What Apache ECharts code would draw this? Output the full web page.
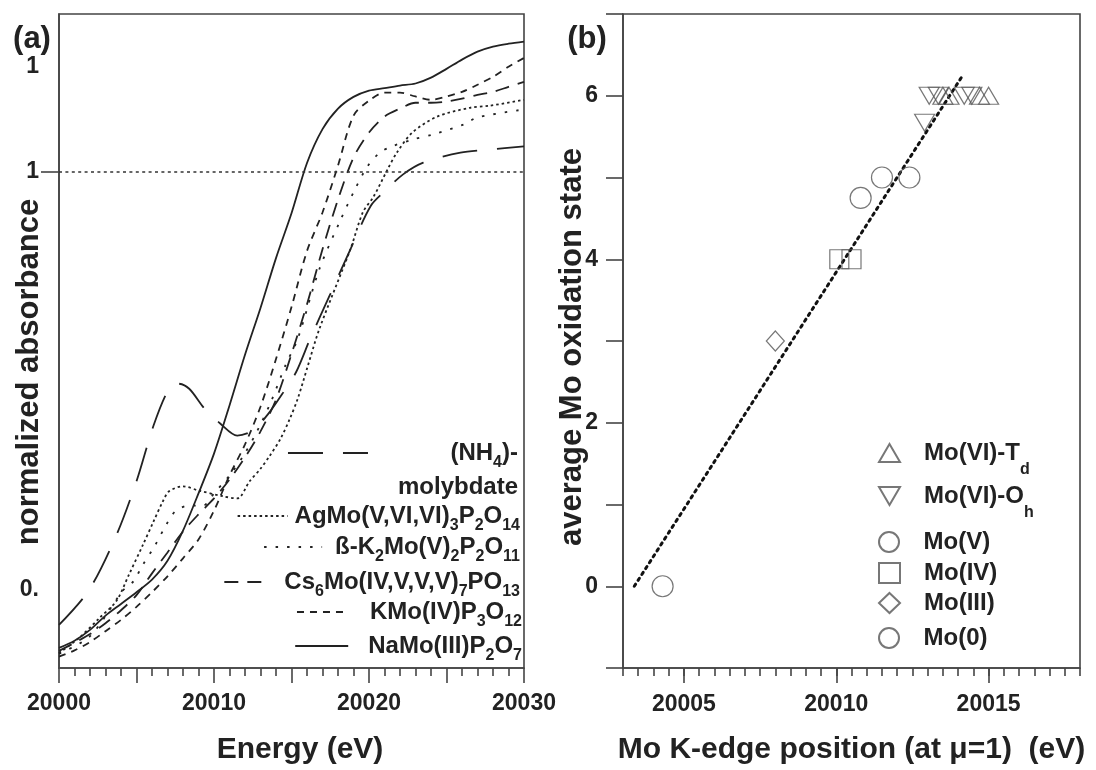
<!DOCTYPE html>
<html><head><meta charset="utf-8">
<script src="https://cdn.jsdelivr.net/npm/echarts@6.0.0/dist/echarts.min.js"></script>
<style>html,body{margin:0;padding:0;background:#fff}#c{width:1096px;height:770px}</style>
</head><body><div id="c"></div>
<script>
// ---------------- Panel (a): normalized absorbance vs energy ----------------
const naE  = [0,1,2,3,4,5,6,7,8,9,10,11,12,13,14,15,16,17,18,19,20,21,22,23,24,25,26,27,28,29,30];
const naV  = [-0.138,-0.121,-0.095,-0.061,-0.033,-0.005,0.025,0.07,0.142,0.231,0.326,0.441,0.562,0.674,0.793,0.9,1.02,1.101,1.15,1.178,1.193,1.199,1.205,1.21,1.224,1.245,1.267,1.286,1.298,1.305,1.31];
const kmoE = [0,1,2,3,4,5,6,7,8,9,10,11,12,13,14,15,16,17,18,19,20,21,22,23,24,25,26,27,28,29,30];
const kmoV = [-0.159,-0.144,-0.124,-0.098,-0.071,-0.04,-0.005,0.033,0.076,0.121,0.19,0.274,0.348,0.438,0.552,0.676,0.81,0.902,1.014,1.133,1.169,1.188,1.188,1.179,1.171,1.179,1.19,1.207,1.226,1.25,1.271];
const csE  = [0,1,2,3,4,5,6,7,8,9,10,11,12,13,14,15,16,17,18,19,20,21,22,23,24,25,26,27,28,29,30];
const csV  = [-0.145,-0.126,-0.105,-0.079,-0.048,-0.012,0.04,0.09,0.14,0.181,0.219,0.264,0.317,0.379,0.455,0.564,0.683,0.814,0.933,1.033,1.093,1.131,1.15,1.164,1.164,1.167,1.174,1.183,1.19,1.202,1.214];
const bkE  = [0,2.0,4.1,4.8,5.4,6.2,6.9,7.5,8.4,9.3,10.0,11.0,11.9,12.8,13.7,14.6,15.4,16.8,18.1,19.0,19.9,20.7,21.5,22.8,24.1,26.1,27.0,30];
const bkV  = [-0.152,-0.11,-0.002,0.021,0.06,0.107,0.155,0.188,0.202,0.202,0.231,0.274,0.321,0.381,0.452,0.536,0.6,0.767,0.879,0.95,1.012,1.045,1.06,1.076,1.088,1.112,1.129,1.148];
const agE  = [0,1.3,2.6,3.7,4.5,5.4,6.1,6.7,7.1,8.0,9.0,10.6,11.5,12.3,13.0,13.6,14.3,14.9,15.4,16.0,16.8,18.8,19.6,20.3,21.2,21.8,22.8,24.4,26.5,27.8,30];
const agV  = [-0.15,-0.114,-0.067,-0.026,0.036,0.107,0.164,0.212,0.236,0.248,0.238,0.224,0.219,0.26,0.29,0.321,0.362,0.41,0.457,0.529,0.624,0.814,0.902,0.94,1.005,1.045,1.093,1.131,1.152,1.157,1.171];
const nhE  = [0,1.9,3.7,5.0,6.1,7.1,7.7,8.4,9.4,10.4,11.5,12.5,13.5,14.5,15.3,16.2,17.5,18.8,20.1,21,22.2,23.5,25.9,27.8,30];
const nhV  = [-0.083,-0.002,0.131,0.26,0.393,0.481,0.493,0.481,0.433,0.398,0.369,0.381,0.421,0.474,0.521,0.6,0.707,0.814,0.917,0.952,0.993,1.021,1.045,1.052,1.06];
const energyOffset = 20000;
const refLevel = 1;
const aXLabels = [20000, 20010, 20020, 20030];
const aYLabelVals = [0, 1, 1.25];
const aYLabelTxt = ['0.', '1', '1'];
const aYTickVals = [1];

// ---------------- Panel (b): oxidation state vs edge position ----------------
const tdX = [20013.5, 20013.7, 20014.7, 20015.0];      const tdY = [6, 6, 6, 6];
const ohX = [20012.9, 20013.05, 20013.35, 20014.2, 20014.45]; const ohY = [5.67, 6, 6, 6, 6];
const m5X = [20010.8, 20011.5, 20012.4];               const m5Y = [4.75, 5, 5];
const m4X = [20010.1, 20010.5];                        const m4Y = [4, 4];
const m3X = [20008.0];                                 const m3Y = [3];
const m0X = [20004.3];                                 const m0Y = [0];
const fitX = [20003.37, 20014.1];                      const fitY = [0, 6.22];
const bXLabels = [20005, 20010, 20015];
const bYLabels = [0, 2, 4, 6];

// ---------------- styling ----------------
const F = '"Liberation Sans", Arial, Helvetica, sans-serif';
const INK = '#222';
const AX = {color: '#444', width: 1.6};
const pairs = (xs, ys, off) => xs.map((x, i) => [x + (off || 0), ys[i]]);

function lineSeries(name, xs, ys, dash) {
  return {type: 'line', name, xAxisIndex: 0, yAxisIndex: 0, data: pairs(xs, ys, energyOffset),
    symbol: 'none', smooth: 0.3, lineStyle: {color: INK, width: 1.8, type: dash},
    itemStyle: {color: INK}, emphasis: {disabled: true}, silent: true, z: 3};
}
const triUp = 'path://M5,0 L10,8.66 L0,8.66 Z';
const triDn = 'path://M0,0 L10,0 L5,8.66 Z';
function scat(name, xs, ys, symbol, size) {
  return {type: 'scatter', name, xAxisIndex: 1, yAxisIndex: 1, data: pairs(xs, ys), symbol, symbolSize: size,
    itemStyle: {color: 'rgba(0,0,0,0)', borderColor: '#555', borderWidth: 1.2}, emphasis: {disabled: true}, silent: true, z: 4};
}

const subA = {
  '(NH4)-molybdate': '{m|(NH}{s|4}{m|)-}\n{m|molybdate}',
  'AgMo(V,VI,VI)3P2O14': '{m|AgMo(V,VI,VI)}{s|3}{m|P}{s|2}{m|O}{s|14}',
  'ß-K2Mo(V)2P2O11': '{m|ß-K}{s|2}{m|Mo(V)}{s|2}{m|P}{s|2}{m|O}{s|11}',
  'Cs6Mo(IV,V,V,V)7PO13': '{m|Cs}{s|6}{m|Mo(IV,V,V,V)}{s|7}{m|PO}{s|13}',
  'KMo(IV)P3O12': '{m|KMo(IV)P}{s|3}{m|O}{s|12}',
  'NaMo(III)P2O7': '{m|NaMo(III)P}{s|2}{m|O}{s|7}'
};
const subB = {
  'Mo(VI)-Td': '{m|Mo(VI)-T}{s|d}', 'Mo(VI)-Oh': '{m|Mo(VI)-O}{s|h}',
  'Mo(V)': '{m|Mo(V)}', 'Mo(IV)': '{m|Mo(IV)}', 'Mo(III)': '{m|Mo(III)}', 'Mo(0)': '{m|Mo(0)}'
};
function richSet(alignRight, subPad) {
  const base = {fontSize: 24, fontWeight: 'bold', fontFamily: F, color: INK, lineHeight: 34};
  const m = Object.assign({}, base); const s = Object.assign({}, base, {fontSize: 16, padding: [subPad, 0, 0, 0]});
  if (alignRight) { m.align = 'right'; s.align = 'right'; }
  return {m, s};
}
function legA(name, top, right, itemWidth, padLeft, padTop, alignRight) {
  return {data: [name], top, right, orient: 'vertical', padding: 0, itemGap: 0, itemWidth, itemHeight: 14,
    selectedMode: false, align: 'left', formatter: n => subA[n],
    itemStyle: {opacity: 0},
    textStyle: {padding: [padTop || 0, 0, 0, padLeft], lineHeight: 34, rich: richSet(alignRight, 20)}};
}
function legB(name, top) {
  return {data: [name], top, left: 878, orient: 'vertical', padding: 0, itemGap: 0, itemWidth: 21, itemHeight: 20,
    selectedMode: false, align: 'left', formatter: n => subB[n],
    textStyle: {padding: [0, 0, 0, 19], lineHeight: 34, rich: richSet(false, 34)}};
}
const tickFont = {fontSize: 23, fontWeight: 'bold', fontFamily: F, color: INK};
const titleFont = {fontSize: 30, fontWeight: 'bold', fontFamily: F, color: INK};

const option = {
  animation: false,
  backgroundColor: '#ffffff',
  grid: [
    {left: 59, right: 572, top: 14, bottom: 100, show: true, borderColor: '#444', borderWidth: 1.6, backgroundColor: 'rgba(0,0,0,0)'},
    {left: 623, right: 16, top: 14, bottom: 97, show: true, borderColor: '#444', borderWidth: 1.6, backgroundColor: 'rgba(0,0,0,0)'}
  ],
  xAxis: [
    {gridIndex: 0, type: 'value', min: 20000, max: 20030, interval: 5, position: 'bottom',
      axisLine: {onZero: false, lineStyle: AX}, axisTick: {length: 15, lineStyle: AX},
      minorTick: {show: true, splitNumber: 5, length: 8, lineStyle: AX},
      axisLabel: Object.assign({customValues: aXLabels, margin: 24, formatter: v => String(v)}, tickFont),
      splitLine: {show: false}, minorSplitLine: {show: false},
      name: 'Energy (eV)', nameLocation: 'middle', nameGap: 67, nameTextStyle: Object.assign({padding: [0, 0, 0, 17]}, titleFont)},
    {gridIndex: 1, type: 'value', min: 20003, max: 20018, interval: 0.5, position: 'bottom',
      axisLine: {onZero: false, lineStyle: AX}, axisTick: {length: 8, lineStyle: AX},
      axisLabel: Object.assign({customValues: bXLabels, margin: 25, formatter: v => String(v)}, tickFont),
      splitLine: {show: false},
      name: 'Mo K-edge position (at \u03bc=1)  (eV)', nameLocation: 'middle', nameGap: 67, nameTextStyle: titleFont},
    {gridIndex: 1, type: 'value', min: 20003, max: 20018, position: 'bottom',
      axisLine: {show: false, onZero: false}, axisTick: {customValues: bXLabels, length: 15, lineStyle: AX},
      axisLabel: {show: false}, splitLine: {show: false}}
  ],
  yAxis: [
    {gridIndex: 0, type: 'value', min: -0.186, max: 1.376,
      axisLine: {show: true, onZero: false, lineStyle: AX}, axisTick: {show: true, customValues: aYTickVals, length: 18, lineStyle: AX},
      axisLabel: Object.assign({customValues: aYLabelVals, margin: 20,
        formatter: v => { const i = aYLabelVals.findIndex(a => Math.abs(a - v) < 1e-6); return i >= 0 ? aYLabelTxt[i] : ''; }}, tickFont),
      splitLine: {show: false}},
    {gridIndex: 1, type: 'value', min: -1, max: 7, interval: 1,
      axisLine: {show: true, onZero: false, lineStyle: AX}, axisTick: {length: 17, lineStyle: AX},
      axisLabel: Object.assign({customValues: bYLabels, margin: 25}, tickFont),
      splitLine: {show: false}}
  ],
  legend: [
    legA('(NH4)-molybdate', 402, 578, 80, 25, 34, true),
    legA('AgMo(V,VI,VI)3P2O14', 498, 576, 50, 2),
    legA('ß-K2Mo(V)2P2O11', 529, 576, 58, 8),
    legA('Cs6Mo(IV,V,V,V)7PO13', 564, 576, 43, 12),
    legA('KMo(IV)P3O12', 594, 574, 52, 16),
    legA('NaMo(III)P2O7', 628, 574, 53, 15),
    legB('Mo(VI)-Td', 428),
    legB('Mo(VI)-Oh', 471),
    legB('Mo(V)', 525),
    legB('Mo(IV)', 556),
    legB('Mo(III)', 586),
    legB('Mo(0)', 621)
  ],
  graphic: [
    {type: 'text', x: 32, y: 39, style: {text: '(a)', font: 'bold 31px ' + F, fill: INK, align: 'center', verticalAlign: 'middle', textAlign: 'center', textVerticalAlign: 'middle'}},
    {type: 'text', x: 587, y: 39, style: {text: '(b)', font: 'bold 31px ' + F, fill: INK, align: 'center', verticalAlign: 'middle', textAlign: 'center', textVerticalAlign: 'middle'}},
    {type: 'text', x: 29, y: 372, rotation: Math.PI / 2, style: {text: 'normalized absorbance', font: 'bold 31px ' + F, fill: INK, align: 'center', verticalAlign: 'middle', textAlign: 'center', textVerticalAlign: 'middle'}},
    {type: 'text', x: 572, y: 347, rotation: Math.PI / 2, style: {text: 'average Mo oxidation state', font: 'bold 31px ' + F, fill: INK, align: 'center', verticalAlign: 'middle', textAlign: 'center', textVerticalAlign: 'middle'}}
  ],
  series: [
    Object.assign(lineSeries('NaMo(III)P2O7', naE, naV, 'solid'), {
      markLine: {silent: true, symbol: ['none', 'none'], label: {show: false}, animation: false,
        lineStyle: {type: [3, 3.4], color: '#333', width: 1.5}, data: [{yAxis: refLevel}]}}),
    lineSeries('KMo(IV)P3O12', kmoE, kmoV, [7, 6]),
    lineSeries('Cs6Mo(IV,V,V,V)7PO13', csE, csV, [14, 9]),
    lineSeries('ß-K2Mo(V)2P2O11', bkE, bkV, [2.5, 9]),
    lineSeries('AgMo(V,VI,VI)3P2O14', agE, agV, [2.5, 3]),
    lineSeries('(NH4)-molybdate', nhE, nhV, [35, 20]),
    {type: 'line', name: 'fit', xAxisIndex: 1, yAxisIndex: 1, data: pairs(fitX, fitY), symbol: 'none',
      lineStyle: {color: '#111', width: 3, type: [2.5, 4.5], cap: 'round'}, silent: true, z: 3},
    scat('Mo(VI)-Td', tdX, tdY, triUp, [20, 17]),
    scat('Mo(VI)-Oh', ohX, ohY, triDn, [20, 17]),
    scat('Mo(V)', m5X, m5Y, 'circle', 21),
    scat('Mo(IV)', m4X, m4Y, 'rect', 19),
    scat('Mo(III)', m3X, m3Y, 'diamond', [18, 20]),
    scat('Mo(0)', m0X, m0Y, 'circle', 21)
  ]
};
const chart = echarts.init(document.getElementById('c'), null, {renderer: 'canvas'});
chart.setOption(option);
</script>
</body></html>
